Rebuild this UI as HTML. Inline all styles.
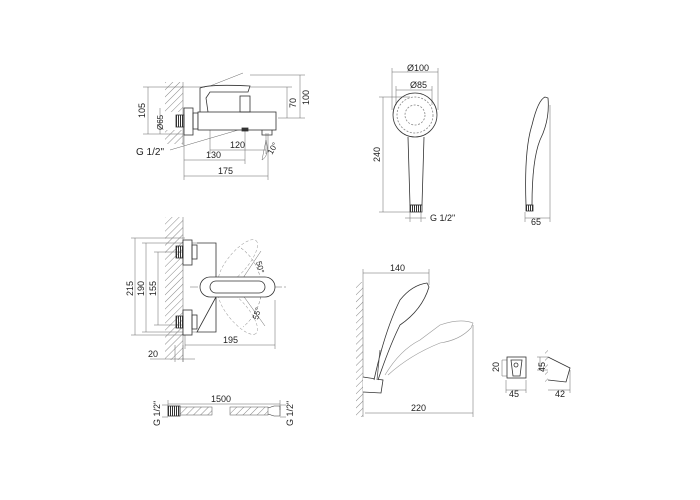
<!DOCTYPE html>
<html><head><style>html,body{margin:0;padding:0;background:#fff}svg{display:block}</style></head><body>
<svg width="700" height="500" viewBox="0 0 700 500" xmlns="http://www.w3.org/2000/svg" font-family="Liberation Sans, sans-serif" font-size="9" fill="none" stroke="#333" stroke-width="0.8">
<defs>
<pattern id="h" width="5" height="5" patternUnits="userSpaceOnUse" patternTransform="rotate(45)"><line x1="0" y1="0" x2="0" y2="5" stroke="#555" stroke-width="0.7"/></pattern>
<pattern id="t" width="2" height="2" patternUnits="userSpaceOnUse"><rect width="1" height="2" fill="#333" stroke="none"/></pattern>
</defs>
<g stroke="#666" stroke-width="0.5">
<!-- ===== Mixer 1 ===== -->
<rect x="165" y="82" width="18" height="30" fill="url(#h)" stroke="none"/>
<rect x="165" y="130" width="18" height="14" fill="url(#h)" stroke="none"/>
<line x1="183" y1="82" x2="183" y2="145"/>
<!-- dims -->
<line x1="148" y1="87" x2="148" y2="134"/><line x1="143" y1="87" x2="205" y2="87"/><line x1="143" y1="134" x2="183" y2="134"/>
<line x1="160" y1="108" x2="160" y2="134"/>
<line x1="300" y1="75" x2="300" y2="118"/><line x1="250" y1="75" x2="305" y2="75"/><line x1="278" y1="118" x2="305" y2="118"/>
<line x1="287" y1="87" x2="287" y2="118"/><line x1="250" y1="87" x2="292" y2="87"/>
<line x1="210" y1="150" x2="266" y2="150"/><line x1="210" y1="130" x2="210" y2="154"/><line x1="266" y1="133" x2="266" y2="154"/>
<line x1="184" y1="160" x2="245" y2="160"/><line x1="245" y1="130" x2="245" y2="164"/>
<line x1="184" y1="176" x2="268" y2="176"/><line x1="184" y1="135" x2="184" y2="180"/><line x1="268" y1="133" x2="268" y2="180"/>
<line x1="170" y1="150" x2="245" y2="128"/>
<line x1="210" y1="86" x2="243" y2="73"/>
<path d="M266 140 L262 160 M266 140 Q270 155 262 160"/>
</g>
<g>
<rect x="184" y="108" width="9" height="27" fill="#fff"/>
<rect x="176" y="115" width="8" height="12" fill="url(#t)"/>
<rect x="193" y="113" width="5" height="16"/>
<rect x="198" y="112" width="78" height="18" fill="#fff"/>
<path d="M200 112 L200 88 Q210 84 250 86 L248 92 L210 92 L206 98 L208 112"/>
<rect x="240" y="96" width="10" height="16"/>
<path d="M262 130 L262 135 L272 135 L272 130"/>
<rect x="242" y="128" width="6" height="3" fill="#333"/>
</g>
<g fill="#222" stroke="none">
<text x="0" y="0" transform="translate(145,118) rotate(-90)">105</text>
<text x="0" y="0" transform="translate(163,130) rotate(-90)" font-size="8">Ø65</text>
<text x="0" y="0" transform="translate(296,108) rotate(-90)">70</text>
<text x="0" y="0" transform="translate(309,105) rotate(-90)">100</text>
<text x="230" y="148">120</text><text x="206" y="158">130</text><text x="218" y="174">175</text>
<text x="136" y="155" font-size="10">G 1/2"</text>
<text x="0" y="0" transform="translate(272,155) rotate(-60)" font-size="8">10°</text>
</g>

<!-- ===== Shower head front ===== -->
<g stroke="#666" stroke-width="0.5">
<line x1="392" y1="72" x2="438" y2="72"/><line x1="392" y1="68" x2="392" y2="110"/><line x1="438" y1="68" x2="438" y2="110"/>
<line x1="396" y1="90" x2="432" y2="90"/><line x1="396" y1="86" x2="396" y2="105"/><line x1="432" y1="86" x2="432" y2="105"/>
<line x1="383" y1="97" x2="383" y2="212"/><line x1="379" y1="97" x2="410" y2="97"/><line x1="379" y1="212" x2="410" y2="212"/>
<line x1="410" y1="212" x2="410" y2="222"/><line x1="421" y1="212" x2="421" y2="222"/><line x1="405" y1="218" x2="426" y2="218"/>
<line x1="525" y1="212" x2="525" y2="222"/><line x1="550" y1="105" x2="550" y2="222"/><line x1="525" y1="218" x2="550" y2="218"/>
</g>
<circle cx="415" cy="115" r="22"/>
<circle cx="415" cy="115" r="18" stroke="#888" stroke-dasharray="2 1.5"/>
<circle cx="415" cy="115" r="10" stroke="#888" stroke-dasharray="2 1.5"/>
<path d="M408 137 L410 205 L422 205 L424 137"/>
<rect x="410" y="205" width="12" height="7" fill="url(#t)"/>
<path d="M526 205 Q524 150 532 125 Q538 100 545 97 L548 98 Q550 120 540 140 Q532 160 532 205 Z"/>
<rect x="526" y="205" width="7" height="6" fill="url(#t)"/>
<g fill="#222" stroke="none">
<text x="407" y="71">Ø100</text><text x="410" y="88">Ø85</text>
<text x="0" y="0" transform="translate(380,162) rotate(-90)">240</text>
<text x="430" y="221" font-size="9">G 1/2"</text>
<text x="531" y="225">65</text>
</g>

<!-- ===== Mixer 2 ===== -->
<rect x="165" y="217" width="18" height="143" fill="url(#h)" stroke="none"/>
<line x1="183" y1="217" x2="183" y2="362" stroke="#666" stroke-width="0.5"/>
<g stroke="#666" stroke-width="0.5">
<line x1="135" y1="238" x2="135" y2="335"/><line x1="131" y1="238" x2="185" y2="238"/><line x1="131" y1="335" x2="185" y2="335"/>
<line x1="146" y1="243" x2="146" y2="332"/><line x1="142" y1="243" x2="197" y2="243"/><line x1="142" y1="332" x2="197" y2="332"/>
<line x1="158" y1="252" x2="158" y2="325"/><line x1="154" y1="252" x2="185" y2="252"/><line x1="154" y1="325" x2="185" y2="325"/>
<line x1="185" y1="345" x2="275" y2="345"/><line x1="185" y1="335" x2="185" y2="349"/><line x1="275" y1="300" x2="275" y2="349"/>
<line x1="150" y1="359" x2="195" y2="359"/><line x1="175" y1="345" x2="175" y2="362"/><line x1="183" y1="345" x2="183" y2="362"/>
<line x1="190" y1="287" x2="288" y2="287" stroke-dasharray="8 2 2 2"/>
<path d="M241 248 A50 50 0 0 1 243 327" stroke-dasharray="3 2"/>
<line x1="237" y1="287" x2="261" y2="251"/><line x1="237" y1="287" x2="265" y2="326"/>
<ellipse cx="238" cy="262" rx="28" ry="10" transform="rotate(-50 238 262)" stroke-dasharray="3 2" stroke="#999"/>
<ellipse cx="238" cy="312" rx="28" ry="10" transform="rotate(50 238 312)" stroke-dasharray="3 2" stroke="#999"/>
</g>
<rect x="183" y="240" width="9" height="25" fill="#fff"/>
<rect x="183" y="310" width="9" height="25" fill="#fff"/>
<rect x="176" y="246" width="7" height="12" fill="url(#t)"/>
<rect x="176" y="316" width="7" height="12" fill="url(#t)"/>
<rect x="192" y="245" width="5" height="14"/><rect x="192" y="315" width="5" height="14"/>
<path d="M197 243 L216 243 L216 277 M216 297 L216 332 L197 332 Z"/>
<rect x="200" y="277" width="75" height="20" rx="10" fill="#fff"/>
<rect x="210" y="281" width="55" height="12" rx="6"/>
<g fill="#222" stroke="none">
<text x="0" y="0" transform="translate(133,296) rotate(-90)">215</text>
<text x="0" y="0" transform="translate(144,296) rotate(-90)">190</text>
<text x="0" y="0" transform="translate(156,296) rotate(-90)">155</text>
<text x="223" y="343">195</text><text x="148" y="357">20</text>
<text x="0" y="0" transform="translate(256,262) rotate(75)" font-size="8">50°</text>
<text x="0" y="0" transform="translate(258,320) rotate(-75)" font-size="8">55°</text>
</g>

<!-- ===== Hose ===== -->
<g stroke="#666" stroke-width="0.5">
<line x1="168" y1="404" x2="280" y2="404"/><line x1="168" y1="400" x2="168" y2="410"/><line x1="280" y1="400" x2="280" y2="410"/>
<line x1="162" y1="405" x2="168" y2="405"/><line x1="162" y1="417" x2="168" y2="417"/>
<line x1="280" y1="405" x2="286" y2="405"/><line x1="280" y1="417" x2="286" y2="417"/>
</g>
<rect x="168" y="406" width="12" height="10" fill="url(#t)"/>
<rect x="180" y="407" width="32" height="8" fill="url(#h)" stroke="#555" stroke-width="0.5"/>
<rect x="230" y="407" width="38" height="8" fill="url(#h)" stroke="#555" stroke-width="0.5"/>
<path d="M268 408 L274 406 L280 406 L280 416 L274 416 L268 414" stroke-width="0.6"/>
<g fill="#222" stroke="none">
<text x="211" y="402">1500</text>
<text x="0" y="0" transform="translate(160,426) rotate(-90)">G 1/2"</text>
<text x="0" y="0" transform="translate(293,426) rotate(-90)">G 1/2"</text>
</g>

<!-- ===== Hand shower with holder ===== -->
<rect x="356" y="282" width="7" height="135" fill="url(#h)" stroke="none"/>
<line x1="363" y1="282" x2="363" y2="417" stroke="#666" stroke-width="0.5"/>
<g stroke="#666" stroke-width="0.5">
<line x1="363" y1="273" x2="429" y2="273"/><line x1="363" y1="269" x2="363" y2="282"/><line x1="429" y1="269" x2="429" y2="285"/>
<line x1="365" y1="413" x2="473" y2="413"/><line x1="473" y1="325" x2="473" y2="417"/>
</g>
<path d="M363 377 L383 380 L381 393 L363 392" fill="#fff"/>
<path d="M374 380 Q385 330 400 300 Q412 285 427 283 L429 287 Q422 310 400 325 Q390 345 378 380" fill="#fff"/>
<path d="M380 350 L377 380" stroke="#555"/>
<path d="M385 375 Q400 350 420 340 L440 325 Q460 318 473 323 L471 328 Q460 340 440 343 Q410 355 388 375" stroke="#999" stroke-width="0.6"/>
<g fill="#222" stroke="none"><text x="390" y="271">140</text><text x="411" y="411">220</text></g>

<!-- small holder views -->
<g stroke="#666" stroke-width="0.5">
<line x1="502" y1="360" x2="508" y2="360"/><line x1="502" y1="376" x2="508" y2="376"/><line x1="502" y1="360" x2="502" y2="376"/>
<line x1="506" y1="390" x2="526" y2="390"/><line x1="506" y1="380" x2="506" y2="393"/><line x1="526" y1="380" x2="526" y2="393"/>
<line x1="537" y1="357" x2="548" y2="357"/><line x1="537" y1="370" x2="548" y2="370"/><line x1="540" y1="357" x2="540" y2="370"/>
<line x1="548" y1="390" x2="570" y2="390"/><line x1="570" y1="370" x2="570" y2="393"/>
</g>
<rect x="507" y="357" width="19" height="21" fill="#fff"/>
<path d="M511 360 L522 360 L520 376 L513 376 Z"/>
<circle cx="516" cy="365" r="2"/>
<rect x="545" y="350" width="3" height="35" fill="url(#h)" stroke="none"/>
<path d="M548 357 L570 368 L566 382 L548 380" fill="#fff"/>
<g fill="#222" stroke="none">
<text x="0" y="0" transform="translate(499,372) rotate(-90)">20</text>
<text x="509" y="397">45</text>
<text x="0" y="0" transform="translate(545,372) rotate(-90)">45</text>
<text x="555" y="397">42</text>
</g>
</svg>
</body></html>
